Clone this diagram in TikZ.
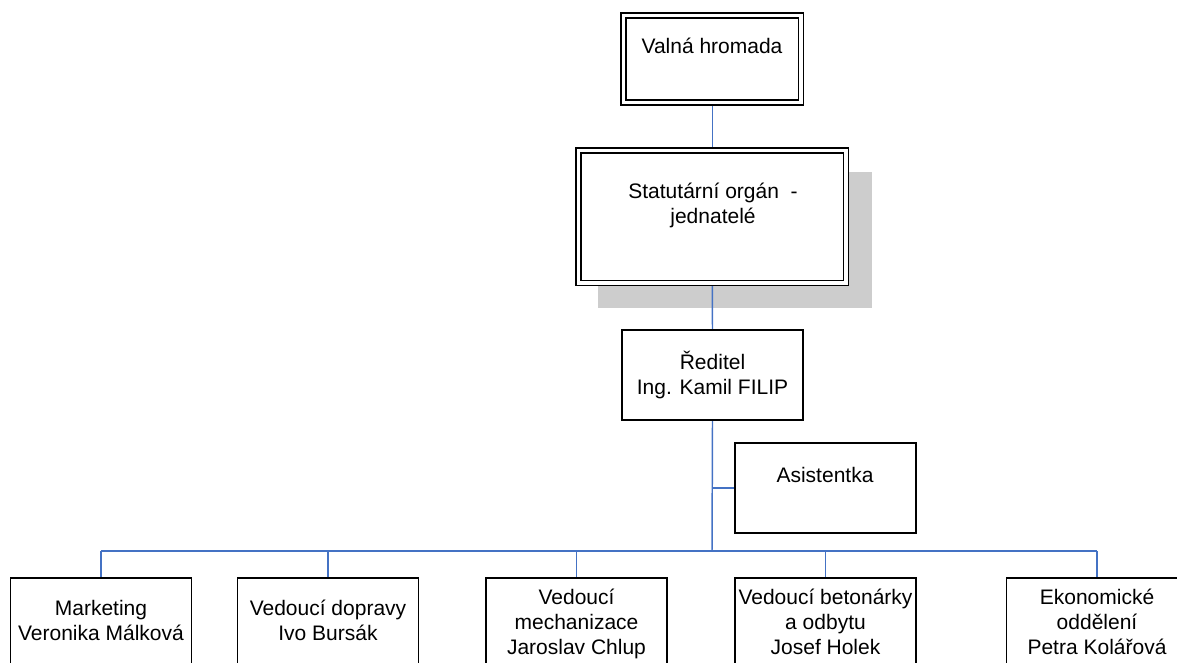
\documentclass[tikz,border=0pt]{standalone}
\usepackage{fontspec}
\setmainfont{Liberation Sans}
\usetikzlibrary{backgrounds}
\definecolor{linkblue}{HTML}{4472C4}
\definecolor{shadowgray}{RGB}{205,205,205}
\newcommand{\orgfont}{\fontsize{15.75pt}{18.75pt}\selectfont}
\tikzset{
  box/.style={draw=black, line width=1.1pt, fill=white, inner sep=0pt,
    minimum width=135.75pt, minimum height=67.5pt},
  dbox/.style={draw=black, line width=1.1pt, double=white, double distance=2.65pt,
    fill=white, inner sep=0pt},
  txt/.style={font=\orgfont, align=center, inner sep=0pt, anchor=base},
  conn/.style={draw=linkblue, line width=1.1pt},
}
\begin{document}
\begin{tikzpicture}[x=0.75pt, y=-0.75pt]
\useasboundingbox (0,0) rectangle (1177,662);
\clip (0,0) rectangle (1177,662);
% boxes
\node[dbox, minimum width=133.1pt, minimum height=65.25pt] (valna) at (712.25,59) {};
\node[dbox, minimum width=200.6pt, minimum height=99.4pt] (stat) at (712.25,216.75) {};
\node[box] (reditel) at (712.5,375) {};
\node[box] (asist) at (825.5,488) {};
\node[box] (b1) at (101,623) {};
\node[box] (b2) at (328,623) {};
\node[box] (b3) at (576.5,623) {};
\node[box] (b4) at (825.5,623) {};
\node[box] (b5) at (1097,623) {};
% texts (base anchor = baseline of the last line)
\node[txt] (valna-t) at (712,53) {Valná hromada};
\node[txt] (stat-t) at (713,223.5) {Statutární orgán~~-\\jednatelé};
\node[txt] (reditel-t) at (712.5,394) {Ředitel\\Ing. Kamil FILIP};
\node[txt] (asist-t) at (825,482) {Asistentka};
\node[txt] (b1-t) at (101,640) {Marketing\\Veronika Málková};
\node[txt] (b2-t) at (328,640) {Vedoucí dopravy\\Ivo Bursák};
\node[txt] (b3-t) at (576.5,654) {Vedoucí\\mechanizace\\Jaroslav Chlup};
\node[txt] (b4-t) at (825.5,654) {Vedoucí betonárky\\a odbytu\\Josef Holek};
\node[txt] (b5-t) at (1097,654) {Ekonomické\\oddělení\\Petra Kolářová};
\coordinate (busc) at (712,551);
\begin{scope}[on background layer]
  \fill[shadowgray] (598,172) rectangle (872,308);
  \draw[conn] (valna.south) -- (stat.north);
  \draw[conn] (stat.south) -- (reditel.north);
  \draw[conn] (reditel.south) -- (busc);
  \draw[conn] (reditel.south |- asist.west) -- (asist.west);
  \draw[conn] (b1.north |- busc) -- (b5.north |- busc);
  \foreach \b in {b1,b2,b3,b4,b5} {
    \draw[conn] (\b.north |- busc) -- (\b.north);
  }
\end{scope}
\end{tikzpicture}
\end{document}
